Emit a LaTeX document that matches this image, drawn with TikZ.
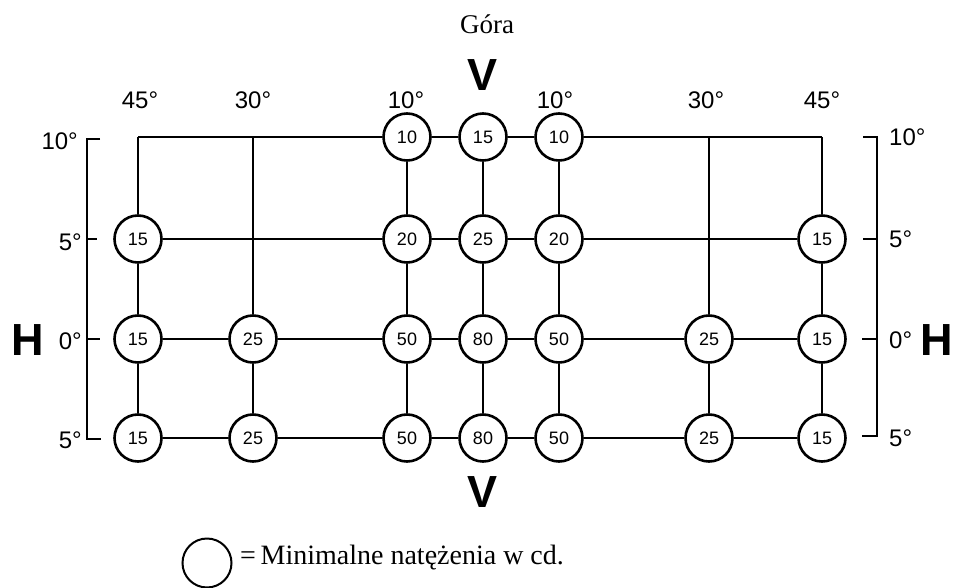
\documentclass[tikz,border=0pt]{standalone}
\usepackage{fontspec}
\setmainfont{Liberation Serif}
\newfontfamily\labfont{Liberation Sans}
\begin{document}
\begin{tikzpicture}[x=1pt,y=-1pt,
  grid/.style={line width=2.4pt},
  val/.style={circle,draw,line width=2.6pt,minimum size=47pt,inner sep=0pt,
    font=\labfont\fontsize{18}{18}\selectfont},
  deg/.style={font=\labfont\fontsize{24}{24}\selectfont,inner sep=0pt},
  big/.style={font=\labfont\bfseries\fontsize{45}{45}\selectfont,inner sep=0pt}]
\useasboundingbox (0,0) rectangle (955,588);
% grid points
\def\cA{138}\def\cB{253}\def\cC{407}\def\cD{483}\def\cE{559}\def\cF{709}\def\cG{822}
\def\rA{137}\def\rB{239}\def\rC{339}\def\rD{438}
% row 1
\coordinate (p11) at (\cA,\rA);
\coordinate (p12) at (\cB,\rA);
\node[val] (p13) at (\cC,\rA) {10};
\node[val] (p14) at (\cD,\rA) {15};
\node[val] (p15) at (\cE,\rA) {10};
\coordinate (p16) at (\cF,\rA);
\coordinate (p17) at (\cG,\rA);
% row 2
\node[val] (p21) at (\cA,\rB) {15};
\coordinate (p22) at (\cB,\rB);
\node[val] (p23) at (\cC,\rB) {20};
\node[val] (p24) at (\cD,\rB) {25};
\node[val] (p25) at (\cE,\rB) {20};
\coordinate (p26) at (\cF,\rB);
\node[val] (p27) at (\cG,\rB) {15};
% row 3
\node[val] (p31) at (\cA,\rC) {15};
\node[val] (p32) at (\cB,\rC) {25};
\node[val] (p33) at (\cC,\rC) {50};
\node[val] (p34) at (\cD,\rC) {80};
\node[val] (p35) at (\cE,\rC) {50};
\node[val] (p36) at (\cF,\rC) {25};
\node[val] (p37) at (\cG,\rC) {15};
% row 4
\node[val] (p41) at (\cA,\rD) {15};
\node[val] (p42) at (\cB,\rD) {25};
\node[val] (p43) at (\cC,\rD) {50};
\node[val] (p44) at (\cD,\rD) {80};
\node[val] (p45) at (\cE,\rD) {50};
\node[val] (p46) at (\cF,\rD) {25};
\node[val] (p47) at (\cG,\rD) {15};
% horizontal lines
\foreach \r in {1,2,3,4}{
  \draw[grid] (p\r1) -- (p\r2) -- (p\r3) -- (p\r4) -- (p\r5) -- (p\r6) -- (p\r7);
}
% vertical lines
\foreach \c in {1,...,7}{
  \draw[grid] (p1\c) -- (p2\c) -- (p3\c) -- (p4\c);
}
% top labels
\node[deg] (t1) at (140,100) {45°};
\node[deg] (t2) at (253,100) {30°};
\node[deg] (t3) at (406,100) {10°};
\node[deg] (t4) at (555,100) {10°};
\node[deg] (t5) at (706,100) {30°};
\node[deg] (t6) at (822,100) {45°};
\node[big] (vtop) at (483,75) {V};
\node[big] (vbot) at (483,492) {V};
\node[big] (hl) at (28,340) {H};
\node[big] (hr) at (937,340) {H};
\node[font=\fontsize{27}{27}\selectfont,inner sep=0pt] (gora) at (487,24) {Góra};
% left bracket
\coordinate (la) at (87,139); \coordinate (lb) at (87,439);
\draw[grid] (100,139) -- (la) -- (lb) -- (101,439);
\draw[grid] (87,239) -- (97,239);
\draw[grid] (87,339) -- (100,339);
\node[deg,anchor=east] (l1) at (78,141) {10°};
\node[deg,anchor=east] (l2) at (82,242) {5°};
\node[deg,anchor=east] (l3) at (82,341) {0°};
\node[deg,anchor=east] (l4) at (82,440) {5°};
% right bracket
\coordinate (ra) at (877,137); \coordinate (rb) at (877,436);
\draw[grid] (863,137) -- (ra) -- (rb) -- (862,436);
\draw[grid] (877,239) -- (863,239);
\draw[grid] (877,339) -- (862,339);
\node[deg,anchor=west] (q1) at (889,137) {10°};
\node[deg,anchor=west] (q2) at (889,239) {5°};
\node[deg,anchor=west] (q3) at (889,340) {0°};
\node[deg,anchor=west] (q4) at (889,438) {5°};
% legend
\node[circle,draw,line width=2pt,minimum size=49pt,inner sep=0pt] (leg) at (207,563) {};
\node[anchor=west,inner sep=0pt,font=\fontsize{28}{28}\selectfont] (legt) at (240,558) {=\,Minimalne natężenia w cd.};
\end{tikzpicture}
\end{document}
